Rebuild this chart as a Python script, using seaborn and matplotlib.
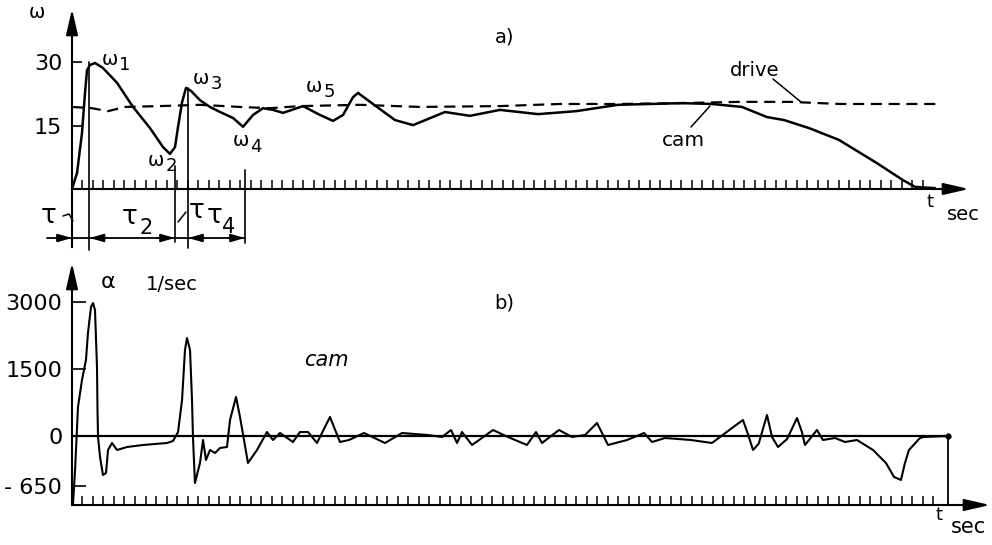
import numpy as np
import matplotlib
matplotlib.use("Agg")
import matplotlib.pyplot as plt
import seaborn as sns

# ---------------- data ----------------
cam_t = [0.00, 0.48, 0.95, 1.24, 1.43, 1.71, 2.19, 2.95, 4.29, 5.81, 7.43, 8.67, 9.33,
         9.81, 10.10, 10.48, 10.86, 11.33, 12.19, 13.14, 14.10, 15.33, 16.29, 17.24,
         18.19, 19.14, 20.10, 22.00, 23.62, 24.86, 25.81, 26.76, 27.24, 29.05, 30.76,
         32.48, 35.52, 37.90, 40.76, 44.38, 48.00, 52.00, 58.10, 60.95, 63.81, 66.19,
         67.81, 70.19, 73.05, 76.67, 79.14, 80.29, 82.19]
cam_w = [0.0, 3.8, 13.2, 22.7, 28.1, 29.3, 29.8, 28.6, 25.1, 19.4, 14.4, 9.9, 8.3,
         9.9, 14.7, 20.5, 23.9, 23.2, 21.0, 19.4, 18.2, 16.8, 14.7, 17.5,
         19.1, 18.7, 18.0, 19.6, 17.5, 16.1, 17.5, 21.7, 22.7, 19.4, 16.3,
         15.1, 18.2, 17.3, 18.7, 17.7, 18.4, 19.9, 20.3, 20.1, 19.4, 17.0,
         16.3, 14.4, 11.6, 6.1, 2.1, 0.5, 0.2]

drive_t = [0.00, 1.90, 3.43, 5.05, 8.38, 12.19, 16.00, 18.86, 21.71, 27.43, 33.14,
           40.76, 46.48, 52.19, 57.90, 63.62, 68.38, 73.14, 78.86, 82.76]
drive_w = [19.4, 19.1, 18.4, 19.4, 19.6, 19.9, 19.4, 19.1, 19.6, 19.9, 19.4,
           19.6, 20.1, 20.1, 20.3, 20.6, 20.6, 20.1, 20.1, 20.1]

acc_t = [0.10, 0.29, 0.57, 0.95, 1.33, 1.52, 1.81, 2.00, 2.19, 2.29, 2.38, 2.43, 2.48,
         2.67, 2.95, 3.24, 3.43, 3.81, 4.29, 5.24, 6.76, 9.05, 9.62, 10.10, 10.48,
         10.76, 10.95, 11.24, 11.43, 11.52, 11.71, 12.19, 12.48, 12.76, 13.14, 13.62,
         14.10, 14.76, 15.05, 15.62, 16.00, 16.76, 17.62, 18.57, 19.14, 19.81, 21.05,
         21.71, 22.48, 23.33, 24.57, 25.52, 26.38, 27.81, 29.81, 31.43, 33.90, 35.24,
         36.10, 36.67, 37.14, 38.10, 40.10, 41.52, 43.33, 44.19, 44.76, 46.38, 47.62,
         48.86, 50.00, 51.05, 52.86, 54.48, 55.24, 56.48, 58.95, 60.95, 62.86, 63.90,
         64.38, 64.86, 65.40, 66.19, 66.67, 67.24, 68.10, 69.05, 69.50, 69.81, 70.95,
         71.52, 72.67, 73.62, 74.76, 76.29, 77.52, 78.29, 78.95, 79.33, 79.71, 80.76,
         81.14, 83.43]
acc_a = [-880, -442, 649, 1253, 1700, 2304, 2886, 2975, 2819, 2148, 1544, 582, -13,
         -273, -507, -481, -182, -91, -182, -143, -117, -91, -65, 89, 805,
         1924, 2192, 1924, 805, -13, -611, -351, -52, -312, -182, -221,
         -156, -143, 358, 872, 425, -351, -182, 89, -52, 67, -78,
         89, 89, -91, 425, -78, -52, 67, -91, 67, 22, -13,
         134, -91, 89, -117, 134, -13, -117, 89, -91, 134, -13,
         22, 291, -117, -52, 67, -78, -26, -52, -91, 179, 358,
         40, -182, -100, 470, -13, -143, -40, 403, 100, -117, 134,
         -52, -26, -78, -52, -182, -351, -533, -572, -351, -182, -26,
         -13, 0]

w_ticks = [15, 30]
w_tick_labels = ["15", "30"]
a_ticks = [-650, 0, 1500, 3000]
a_tick_labels = ["- 650", "0", "1500", "3000"]

# ---------------- style ----------------
sns.set_theme(style="white")
plt.rcParams["font.family"] = ["DejaVu Sans"]
plt.rcParams["axes.unicode_minus"] = False

W, H = 992, 545
fig = plt.figure(figsize=(W / 100, H / 100), dpi=100)

X0, SX = 72, 10.5           # time axis: pixel origin, pixels per tick unit
def tx(px):
    return (px - X0) / SX

W0, SW = 189, 4.23           # omega axis
def wy(py):
    return (W0 - py) / SW

A0, SA, K = 436, 0.0447, 1.72  # alpha axis (negative side drawn stretched)
def fwd(v):
    v = np.asarray(v, float)
    return np.where(v < 0, v * K, v)
def inv(s):
    s = np.asarray(s, float)
    return np.where(s < 0, s / K, s)
def ay(py):
    return float(inv((A0 - py) / SA))

def ftext(x, y, s, size, **kw):
    fig.text(x / W, 1 - y / H, s, fontsize=size, ha=kw.pop("ha", "center"),
             va=kw.pop("va", "center"), color="black", **kw)

ax1 = fig.add_axes([0, 1 - 250 / H, 1, 250 / H])
ax2 = fig.add_axes([0, 0, 1, 295 / H])
for ax in (ax1, ax2):
    ax.set_xlim(tx(0), tx(W))
    ax.patch.set_alpha(0)
    ax.grid(False)
    for s in ("top", "right"):
        ax.spines[s].set_visible(False)
    for s in ("left", "bottom"):
        ax.spines[s].set_color("black")
        ax.spines[s].set_linewidth(1.5)
ax1.set_ylim(wy(250), wy(0))
ax2.set_yscale("function", functions=(fwd, inv))
ax2.set_ylim(ay(545), ay(250))

arrow_big = dict(arrowstyle="-|>,head_length=1.3,head_width=0.3", color="black",
                 lw=1.5, shrinkA=0, shrinkB=0)
arrow_small = dict(arrowstyle="-|>,head_length=0.7,head_width=0.2", color="black",
                   lw=1.3, shrinkA=0, shrinkB=0)

# ---------------- panel a ----------------
sns.lineplot(x=cam_t, y=cam_w, ax=ax1, color="black", lw=1.8,
             estimator=None, sort=False, legend=False)
sns.lineplot(x=drive_t, y=drive_w, ax=ax1, color="black", lw=1.6,
             estimator=None, sort=False, legend=False, linestyle="--")
ax1.lines[-1].set_dashes([5, 3])

ax1.spines["left"].set_position(("data", 0))
ax1.spines["left"].set_bounds(wy(247), wy(25))
ax1.spines["bottom"].set_position(("data", 0))
ax1.spines["bottom"].set_bounds(0, tx(945))
ax1.annotate("", xy=(0, wy(9)), xytext=(0, wy(30)), arrowprops=arrow_big,
             annotation_clip=False)
ax1.annotate("", xy=(tx(969), 0), xytext=(tx(940), 0), arrowprops=arrow_big,
             annotation_clip=False)
ax1.set_yticks(w_ticks, w_tick_labels)
ax1.tick_params(axis="y", direction="in", length=7.5, width=1.2, pad=7,
                labelsize=16, left=True, colors="black")
ax1.set_xticks(np.arange(1, 82))
ax1.tick_params(axis="x", direction="in", length=6.5, width=1.1,
                labelbottom=False, bottom=True, colors="black")

# tau dimension lines
ax1.plot([tx(47), tx(245)], [wy(238)] * 2, color="black", lw=1.3, clip_on=False)
for x, ytop, ybot in [(89.5, 62, 250), (175, 166, 242), (188, 88, 248), (245, 170, 243)]:
    ax1.plot([tx(x)] * 2, [wy(ytop), wy(ybot)], color="black", lw=1.2, clip_on=False)
for tip, tail in [(72, 56), (89.5, 106), (175, 157), (188, 204), (245, 228)]:
    ax1.annotate("", xy=(tx(tip), wy(238)), xytext=(tx(tail), wy(238)),
                 arrowprops=arrow_small, annotation_clip=False)
ax1.plot([tx(63), tx(69), tx(73)], [wy(216), wy(214), wy(221)], color="black", lw=1.1)
ax1.plot([tx(178), tx(186)], [wy(222), wy(212)], color="black", lw=1.1)

# leader lines
ax1.plot([tx(773), tx(801)], [wy(79), wy(102)], color="black", lw=1.1)
ax1.plot([tx(691), tx(710)], [wy(127), wy(106)], color="black", lw=1.1)

# texts panel a
ftext(37, 12, "ω", 14)
ftext(505, 37, "a)", 14)
for (x, y, d) in [(110, 59, "1"), (156, 160, "2"), (201, 78, "3"), (241, 141, "4"), (314, 86, "5")]:
    ftext(x, y, "ω", 14)
    ftext(x + 15, y + 6, d, 13)
ftext(755, 70, "drive", 14)
ftext(683, 140, "cam", 14.5)
ftext(930, 202, "t", 13)
ftext(963, 214, "sec", 14)
ftext(49, 216, "τ", 19)
ftext(130, 217, "τ", 19)
ftext(146, 228, "2", 15)
ftext(197, 211, "τ", 19)
ftext(215, 216, "τ", 19)
ftext(229, 227, "4", 15)

# ---------------- panel b ----------------
sns.lineplot(x=acc_t, y=acc_a, ax=ax2, color="black", lw=1.5,
             estimator=None, sort=False, legend=False)

base = ay(505)
ax2.spines["left"].set_position(("data", 0))
ax2.spines["left"].set_bounds(base, ay(285))
ax2.spines["bottom"].set_position(("data", base))
ax2.spines["bottom"].set_bounds(0, tx(965))
ax2.annotate("", xy=(0, ay(263)), xytext=(0, ay(290)), arrowprops=arrow_big,
             annotation_clip=False)
ax2.annotate("", xy=(tx(990), base), xytext=(tx(960), base), arrowprops=arrow_big,
             annotation_clip=False)
ax2.set_yticks(a_ticks, a_tick_labels)
ax2.tick_params(axis="y", direction="in", length=10, width=1.2, pad=7,
                labelsize=16, left=True, colors="black")
ax2.set_xticks(np.arange(1, 83))
ax2.tick_params(axis="x", direction="in", length=6.5, width=1.1,
                labelbottom=False, bottom=True, colors="black")

ax2.plot([0, tx(948)], [0, 0], color="black", lw=1.6)
ax2.plot([tx(948)], [0], "o", color="black", ms=3.5)
ax2.plot([tx(948)] * 2, [0, base], color="black", lw=1.3)

ftext(108, 282, "α", 16)
ftext(172, 284, "1/sec", 14)
ftext(504, 303, "b)", 14)
ftext(326, 360, "cam", 15, style="italic")
ftext(939, 515, "t", 13)
ftext(968, 527, "sec", 15)

fig.savefig("out.png", dpi=100)
